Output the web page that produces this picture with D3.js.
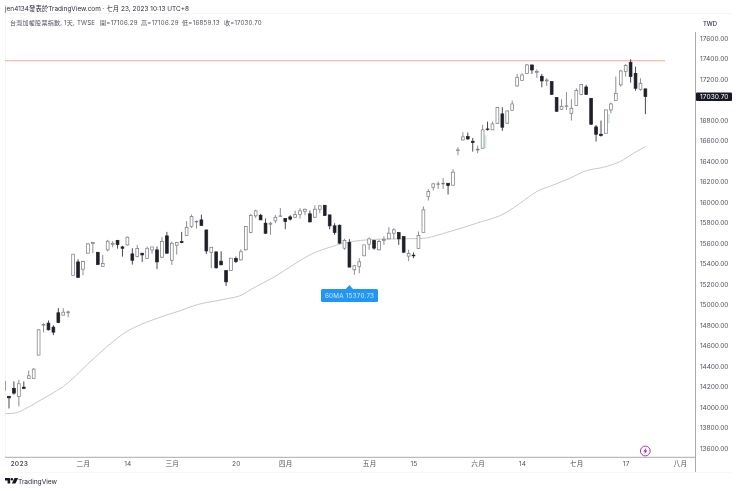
<!DOCTYPE html>
<html><head><meta charset="utf-8">
<script src="https://cdn.jsdelivr.net/npm/d3@7/dist/d3.min.js"></script>
<style>
html,body{margin:0;padding:0;background:#fff;overflow:hidden}
svg{display:block;filter:blur(0.3px)}
text{font-family:Inter,"Noto Sans CJK TC",sans-serif}
</style></head><body><svg id="c" width="740" height="491"></svg>
<script>
const barIndex = d3.range(0,131);
const opens = [14162,14103,14181,14103,14194,14279,14279,14507,14799,14819,14780,14920,14897,14920,15284,15417,15346,15502,15596,15511,15372,15534,15589,15625,15563,15583,15495,15469,15502,15450,15534,15534,15463,15671,15433,15580,15615,15674,15762,15807,15827,15729,15511,15515,15424,15333,15333,15450,15437,15535,15704,15866,15873,15795,15785,15818,15860,15840,15857,15853,15879,15912,15886,15853,15931,15970,15876,15769,15775,15551,15606,15340,15372,15476,15590,15626,15535,15626,15642,15697,15704,15665,15473,15483,15548,15704,16055,16146,16172,16179,16185,16166,16504,16608,16640,16595,16510,16527,16715,16706,16767,16862,16771,16897,17135,17187,17258,17340,17268,17229,17184,17177,17021,16907,16933,16868,16943,17050,17125,17014,16735,16663,16673,16901,16992,17145,17275,17366,17258,17102,17106.29];
const closes = [14250,14090,14136,14227,14181,14305,14370,14754,14806,14754,14731,14825,14926,14929,15492,15264,15420,15593,15606,15391,15401,15619,15599,15586,15550,15658,15433,15547,15485,15550,15563,15417,15615,15502,15599,15606,15606,15755,15859,15814,15772,15524,15560,15359,15388,15222,15453,15420,15515,15762,15870,15915,15827,15697,15795,15853,15866,15811,15834,15879,15915,15931,15808,15931,15964,15870,15769,15704,15600,15626,15366,15379,15418,15583,15642,15551,15616,15635,15697,15730,15642,15512,15499,15476,15675,15925,16104,16179,16179,16185,16162,16293,16510,16637,16618,16582,16517,16706,16709,16764,16923,16732,16891,16959,17219,17242,17340,17291,17275,17184,17193,17053,16888,16936,16940,16917,17089,17148,17053,16761,16663,16650,16901,16959,17063,17281,17336,17226,17112,17161,17030.70];
const highs = [14250,14110,14250,14266,14250,14357,14380,14760,14819,14845,14799,14965,14965,14942,15492,15443,15430,15599,15612,15511,15485,15632,15619,15632,15573,15664,15550,15583,15502,15567,15563,15567,15658,15710,15615,15612,15710,15814,15879,15820,15879,15729,15560,15515,15521,15333,15453,15469,15541,15762,15886,15925,15886,15840,15808,15873,15944,15840,15873,15918,15941,15938,15918,15970,15970,15970,15876,15795,15782,15645,15639,15388,15453,15583,15655,15632,15632,15665,15756,15746,15704,15665,15535,15509,15714,15958,16127,16185,16201,16234,16185,16322,16536,16683,16680,16627,16553,16754,16787,16787,16927,16927,16894,16992,17252,17258,17349,17340,17297,17252,17210,17177,17024,17005,17076,17005,17112,17154,17145,17014,16754,16797,16901,16972,17226,17291,17349,17395,17323,17210,17106.29];
const lows = [14162,13986,14120,14006,14175,14279,14279,14507,14728,14747,14702,14819,14897,14877,15284,15264,15287,15502,15502,15391,15372,15518,15560,15547,15469,15577,15391,15463,15417,15443,15495,15346,15456,15495,15388,15489,15599,15671,15749,15742,15768,15495,15355,15352,15385,15183,15333,15405,15431,15528,15697,15847,15827,15691,15681,15795,15860,15736,15821,15847,15840,15873,15801,15847,15892,15866,15736,15681,15593,15535,15366,15291,15307,15476,15535,15535,15528,15583,15639,15639,15583,15502,15424,15453,15548,15704,16016,16114,16130,16130,16075,16162,16458,16601,16608,16494,16478,16523,16699,16706,16764,16696,16764,16894,17128,17187,17252,17252,17213,17122,17135,17050,16881,16901,16901,16797,16940,17044,17047,16754,16592,16640,16673,16868,16992,17128,17226,17167,17089,17089,16859.13];

const maIndex = [0.3,2.2,4.2,6.6,9.3,12,14.4,16.8,19.4,22.1,24.9,27.6,30.2,33,35.7,38.4,40.4,43.1,45.8,47.8,50.5,54.6,58.6,62.7,66.1,68.8,72.2,76.2,80.3,84.3,90.4,95.8,101.9,104.6,108,111.4,114.7,118.1,121.5,124.9,127.6,130];
const maValues = [13935,13941,13980,14045,14120,14201,14299,14413,14527,14640,14738,14803,14852,14900,14940,14988,15014,15037,15063,15086,15161,15265,15388,15502,15561,15600,15626,15639,15642,15645,15714,15795,15902,15990,16104,16169,16234,16309,16341,16397,16478,16543];

const priceTicks = d3.range(13600,17601,200).filter(v=>v!==17000);
const timeTicks = [3,16,25,34,47,57,74,83,96,105,116,126,137];
const timeLabels = ["2023","二月","14","三月","20","四月","五月","15","六月","14","七月","17","八月"];
const boldTimeLabels = ["2023"];
const alertLevel = 17381;
const lastClose = 17030.70;
const maLabelIndex = 70;
const maLabelValue = 15370.73;
const greenMarks = [{i:97,hi:16650,lo:16530},{i:122,hi:16860,lo:16770}];
const legendParts = [["台灣加權股票指數, 1天, TWSE",10,85],["開=17106.29",100,37.5],["高=17106.29",141,37.5],["低=16859.13",182,37.5],["收=17030.70",224,37.5]];

const svg = d3.select("#c");
const x = d3.scaleLinear().domain([1,130]).range([9,645.4]);
const y = d3.scaleLinear().domain([13600,17600]).range([448,38.3]);
const G = svg.append("g");
const UP="#ffffff", DOWN="#1e2029", EDGE="#77787c", WICKUP="#808185", WICKDN="#33343a";

svg.append("defs").append("clipPath").attr("id","pane").append("rect")
  .attr("x",5).attr("y",14).attr("width",690.5).attr("height",443);

// frame
G.append("rect").attr("x",5).attr("y",13).attr("width",727).attr("height",0.6).attr("fill","#efefef");
G.append("rect").attr("x",5).attr("y",13).attr("width",0.6).attr("height",444).attr("fill","#efefef");
G.append("rect").attr("x",5).attr("y",472).attr("width",727).attr("height",0.6).attr("fill","#f4f4f4");

const pane = G.append("g").attr("clip-path","url(#pane)");

// MA
pane.append("path").datum(d3.zip(maIndex,maValues))
  .attr("fill","none").attr("stroke","#c8c8c8").attr("stroke-width",1)
  .attr("d",d3.line().x(d=>x(d[0])).y(d=>y(d[1])).curve(d3.curveMonotoneX));

// alert line
pane.append("line").attr("x1",5).attr("x2",665).attr("y1",y(alertLevel)).attr("y2",y(alertLevel))
  .attr("stroke","#f2a79b").attr("stroke-width",1.1);

// green marks
pane.selectAll("rect.g").data(greenMarks).join("rect").attr("class","g")
  .attr("x",d=>x(d.i)+1.8).attr("width",2).attr("y",d=>y(d.hi)).attr("height",d=>y(d.lo)-y(d.hi)).attr("fill","#cdeedd");

// candles
const candles = barIndex.map(i=>({i,o:opens[i],c:closes[i],h:highs[i],l:lows[i]}));
const cg = pane.selectAll("g.k").data(candles).join("g").attr("class","k");
cg.append("line").attr("x1",d=>x(d.i)).attr("x2",d=>x(d.i))
  .attr("y1",d=>y(d.h)).attr("y2",d=>y(d.l))
  .attr("stroke",d=>d.c>=d.o?WICKUP:WICKDN).attr("stroke-width",0.9);
cg.append("rect").attr("x",d=>x(d.i)-1.4).attr("width",2.8)
  .attr("y",d=>y(Math.max(d.o,d.c)))
  .attr("height",d=>Math.max(0.5,Math.abs(y(d.o)-y(d.c))))
  .attr("fill",d=>d.c>=d.o?UP:DOWN)
  .attr("stroke",d=>d.c>=d.o?EDGE:DOWN).attr("stroke-width",0.7);

// axes
const yAxis = d3.axisRight(y).tickValues(priceTicks).tickSize(0).tickPadding(4.5).tickFormat(d3.format(".2f"));
const ya = G.append("g").attr("transform","translate(695.5,0)").call(yAxis);
ya.select(".domain").remove();
ya.selectAll("text").attr("font-size",6.6).attr("fill","#50535e").attr("textLength",28.5);

const tickMap = new Map(d3.zip(timeTicks,timeLabels));
const xAxis = d3.axisBottom(x).tickValues(timeTicks).tickSize(0).tickPadding(4).tickFormat(d=>tickMap.get(d));
const xa = G.append("g").attr("transform","translate(0,457.3)").call(xAxis);
xa.select(".domain").remove();
xa.selectAll("text").attr("font-size",6.6).attr("fill","#50535e").style("letter-spacing","0.3px")
  .attr("font-weight",d=>boldTimeLabels.includes(tickMap.get(d))?600:400);

G.append("line").attr("x1",5).attr("x2",695.5).attr("y1",457.3).attr("y2",457.3).attr("stroke","#a0a0a4").attr("stroke-width",0.9);
G.append("line").attr("x1",695.5).attr("x2",695.5).attr("y1",32).attr("y2",472).attr("stroke","#a0a0a4").attr("stroke-width",0.9);

// price label
G.append("rect").attr("x",696).attr("y",y(lastClose)-4.2).attr("width",36).attr("height",8.6).attr("rx",1).attr("fill","#171a24");
G.append("text").attr("x",700).attr("y",y(lastClose)+2.5).attr("font-size",6.6).attr("fill","#fff").attr("textLength",28.5).text(d3.format(".2f")(lastClose));

// header texts
G.append("text").attr("x",5).attr("y",10.6).attr("font-size",6.4).attr("fill","#2a2e39").attr("textLength",184)
  .text("jen4134發表於TradingView.com · 七月 23, 2023 10:13 UTC+8");
G.selectAll("text.leg").data(legendParts).join("text").attr("class","leg")
  .attr("x",d=>d[1]).attr("y",25).attr("font-size",6.1).attr("fill","#50535e").attr("textLength",d=>d[2]).text(d=>d[0]);
G.append("text").attr("x",703).attr("y",25.5).attr("font-size",5.9).attr("font-weight",500).attr("fill","#2a2e39").attr("textLength",14).text("TWD");

// MA tag
const tagX = x(maLabelIndex);
const tag = G.append("g");
tag.append("rect").attr("x",321).attr("y",289).attr("width",57).attr("height",13).attr("rx",1.5).attr("fill","#2196f3");
tag.append("path").attr("d",`M${tagX-3.5},289L${tagX},285L${tagX+3.5},289Z`).attr("fill","#2196f3");
tag.append("text").attr("x",325).attr("y",297.8).attr("font-size",6.3).attr("fill","#cfe7fc").attr("textLength",49)
  .text("60MA "+maLabelValue.toFixed(2));

// lightning event
const ev = G.append("g").attr("transform","translate(645.3,451)");
ev.append("circle").attr("r",4.9).attr("fill","#fff").attr("stroke","#9c27b0").attr("stroke-width",0.9);
ev.append("path").attr("d","M0.9,-3L-2,0.6H-0.3L-0.9,3L2,-0.6H0.3Z").attr("fill","#9c27b0");

// logo
const logo = G.append("g").attr("transform","translate(5,478)").attr("fill","#131722");
logo.append("path").attr("d","M0,0H5.2V5.6H2.6V2.4H0Z");
logo.append("circle").attr("cx",6.9).attr("cy",1.3).attr("r",1.2);
logo.append("path").attr("d","M9.6,0H13.2L10.4,5.6H6.8Z");
G.append("text").attr("x",18).attr("y",484).attr("font-size",6.7).attr("fill","#2a2e39").attr("textLength",39).text("TradingView");
</script></body></html>
